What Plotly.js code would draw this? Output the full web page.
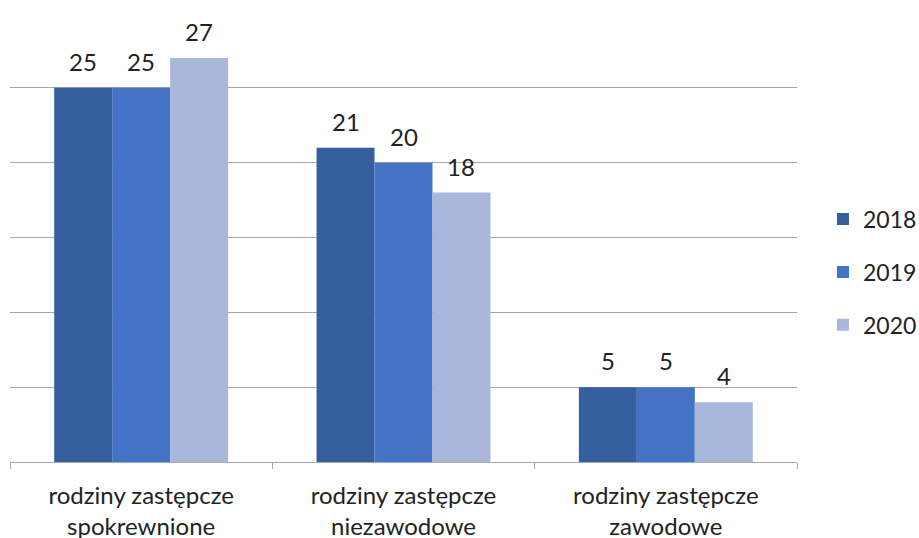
<!DOCTYPE html>
<html>
<head>
<meta charset="utf-8">
<script src="https://cdn.plot.ly/plotly-3.0.1.min.js"></script>
<style>
  body { margin: 0; background: #fff; }
  #chart { width: 919px; height: 538px; }
</style>
</head>
<body>
<div id="chart"></div>
<script>
// categories and values per year
const categories = ["rodziny zastępcze<br>spokrewnione", "rodziny zastępcze<br>niezawodowe", "rodziny zastępcze<br>zawodowe"];
const years = ["2018", "2019", "2020"];
const values2018 = [25, 21, 5];
const values2019 = [25, 20, 5];
const values2020 = [27, 18, 4];
const colors = ["#355E9F", "#4472C4", "#A9B7DB"];

const allValues = [values2018, values2019, values2020];
const barGap = 0.337;
const barWidth = (1 - barGap) / years.length;

const traces = years.map(function(year, i) {
    return {
        type: 'bar',
        name: year,
        x: categories,
        y: allValues[i],
        legendgroup: year,
        marker: { color: colors[i] },
        hoverinfo: 'none'
    };
});

// value labels above each bar
const annotations = [];
years.forEach(function(year, i) {
    allValues[i].forEach(function(v, c) {
        annotations.push({
            x: c + (i - 1) * barWidth,
            y: v,
            xref: 'x', yref: 'y',
            text: String(v),
            showarrow: false,
            yanchor: 'bottom',
            yshift: 10,
            font: { size: 24, color: '#222' }
        });
    });
});

const layout = {
    width: 919,
    height: 538,
    margin: { l: 10, r: 122, t: 13, b: 76, autoexpand: false },
    paper_bgcolor: '#fff',
    plot_bgcolor: '#fff',
    font: { family: 'Lato, "Noto Sans", sans-serif', size: 24, color: '#222' },
    barmode: 'group',
    bargap: barGap,
    bargroupgap: 0,
    showlegend: true,
    annotations: annotations,
    legend: {
        x: 1.033, xanchor: 'left',
        y: 0.423, yanchor: 'middle',
        font: { size: 23, color: '#222' },
        tracegroupgap: 20,
        itemwidth: 30
    },
    xaxis: {
        type: 'category',
        showline: true,
        linecolor: '#A6A6A6',
        linewidth: 1,
        ticks: 'outside',
        tickson: 'boundaries',
        ticklen: 6,
        tickcolor: '#A6A6A6',
        showgrid: false,
        ticklabelstandoff: 12,
        tickfont: { size: 24, color: '#222' }
    },
    yaxis: {
        range: [0, 30],
        dtick: 5,
        showticklabels: false,
        showgrid: true,
        gridcolor: '#A6A6A6',
        gridwidth: 1,
        zeroline: false,
        showline: false,
        fixedrange: true
    }
};

Plotly.newPlot('chart', traces, layout, { displayModeBar: false, staticPlot: true });
</script>
</body>
</html>
